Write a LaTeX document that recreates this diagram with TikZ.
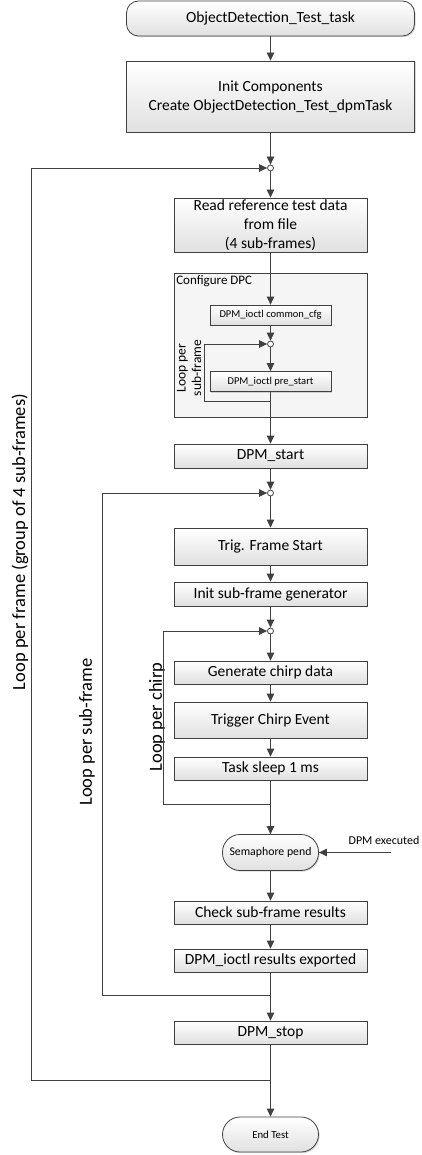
\documentclass[tikz,border=0pt]{standalone}
\usepackage{fontspec}
\setmainfont{Carlito}
\usetikzlibrary{arrows.meta,shadows,positioning}

\begin{document}
\begin{tikzpicture}[
x=1pt, y=-1pt,
line/.style={
  draw=black!75,
  line width=0.8pt
  },
box/.style={
  line,
  rectangle,
  inner sep=0pt,
  align=center,
  top color=white,
  bottom color=black!12,
  drop shadow={shadow xshift=1.2pt,shadow yshift=-1.2pt,opacity=0.3},
  font=\fontsize{15.5}{19}\selectfont
  },
wide/.style={box, minimum width=288pt},
main/.style={box, minimum width=193pt},
small/.style={box, minimum width=121pt, minimum height=20pt, font=\fontsize{10.5}{13}\selectfont},
term/.style={box, minimum width=96pt, minimum height=36pt, rounded corners=17.5pt, font=\fontsize{11.8}{14}\selectfont},
junct/.style={line, circle, fill=white, inner sep=0pt, minimum size=6pt},
group/.style={line, fill=black!4, minimum width=193pt, minimum height=144pt},
looptext/.style={rotate=90, font=\fontsize{18.5}{22}\selectfont},
>={Triangle[length=8pt,width=7.5pt]}
]
\useasboundingbox (0,0) rectangle (421,1155);
\node[wide, minimum height=35pt, rounded corners=12pt] (start) at (270.5,18.5) {ObjectDetection\_Test\_task};
\node[wide, minimum height=71pt] (init) at (270.5,96.5) {Init Components\\Create ObjectDetection\_Test\_dpmTask};
\node[junct] (j1) at (270.5,168) {};
\node[main, minimum height=54pt] (read) at (270.5,225) {Read reference test data\\from file\\(4 sub-frames)};
\node[group] (cfg) at (270.5,345) {};
\node[anchor=north west, inner sep=2.5pt, font=\fontsize{13}{15}\selectfont] (cfgname) at (cfg.north west) {Configure DPC};
\node[small] (common) at (270.5,315) {DPM\_ioctl common\_cfg};
\node[junct] (j2) at (270.5,344) {};
\node[small] (prestart) at (270.5,381.5) {DPM\_ioctl pre\_start};
\node[looptext, align=center, font=\fontsize{13.5}{15.5}\selectfont] (cfgloop) at (189,368) {Loop per\\sub-frame};
\node[main, minimum height=24pt] (dpmstart) at (270.5,456) {DPM\_start};
\node[junct] (j3) at (270.5,493) {};
\node[main, minimum height=37pt] (trig) at (270.5,546.5) {Trig. Frame Start};
\node[main, minimum height=24pt] (initsub) at (270.5,594) {Init sub-frame generator};
\node[junct] (j4) at (270.5,631) {};
\node[main, minimum height=23pt] (gen) at (270.5,672.5) {Generate chirp data};
\node[main, minimum height=36pt] (trigger) at (270.5,720) {Trigger Chirp Event};
\node[main, minimum height=23pt] (sleep) at (270.5,768.5) {Task sleep 1 ms};
\node[term] (sema) at (270.5,852.5) {Semaphore pend};
\node[main, minimum height=23pt] (check) at (270.5,912.5) {Check sub-frame results};
\node[main, minimum height=23pt] (export) at (270.5,960.5) {DPM\_ioctl results exported};
\node[main, minimum height=23pt] (stop) at (270.5,1032.5) {DPM\_stop};
\node[term, minimum height=35pt, font=\fontsize{10.8}{13}\selectfont] (end) at (270.5,1134.5) {End Test};
\node[looptext] (chirploop) at (157,717) {Loop per chirp};
\node[looptext] (sfloop) at (87,732) {Loop per sub-frame};
\node[looptext] (frameloop) at (20,542) {Loop per frame (group of 4 sub-frames)};
\node[font=\fontsize{12}{14}\selectfont] (dpmexec) at (384,840) {DPM executed};
\coordinate (cfgcorner) at (204,401);
\coordinate (chirpcorner) at (163,804);
\coordinate (sfcorner) at (102,995);
\coordinate (framecorner) at (31,1080);
\coordinate (dpmsrc) at (391,852.5);
\foreach \from/\to in {start/init, init/j1, j1/read, read/common, common/j2, j2/prestart, prestart/dpmstart, dpmstart/j3, j3/trig, trig/initsub, initsub/j4, j4/gen, gen/trigger, trigger/sleep, sleep/sema, sema/check, check/export, export/stop, stop/end, dpmsrc/sema}
  \draw[line,->] (\from) -- (\to);
\foreach \src/\corner/\dst in {prestart/cfgcorner/j2, sleep/chirpcorner/j4, export/sfcorner/j3, stop/framecorner/j1}
  \draw[line,->] (\src.south |- \corner) -- (\corner) |- (\dst);
\end{tikzpicture}
\end{document}
